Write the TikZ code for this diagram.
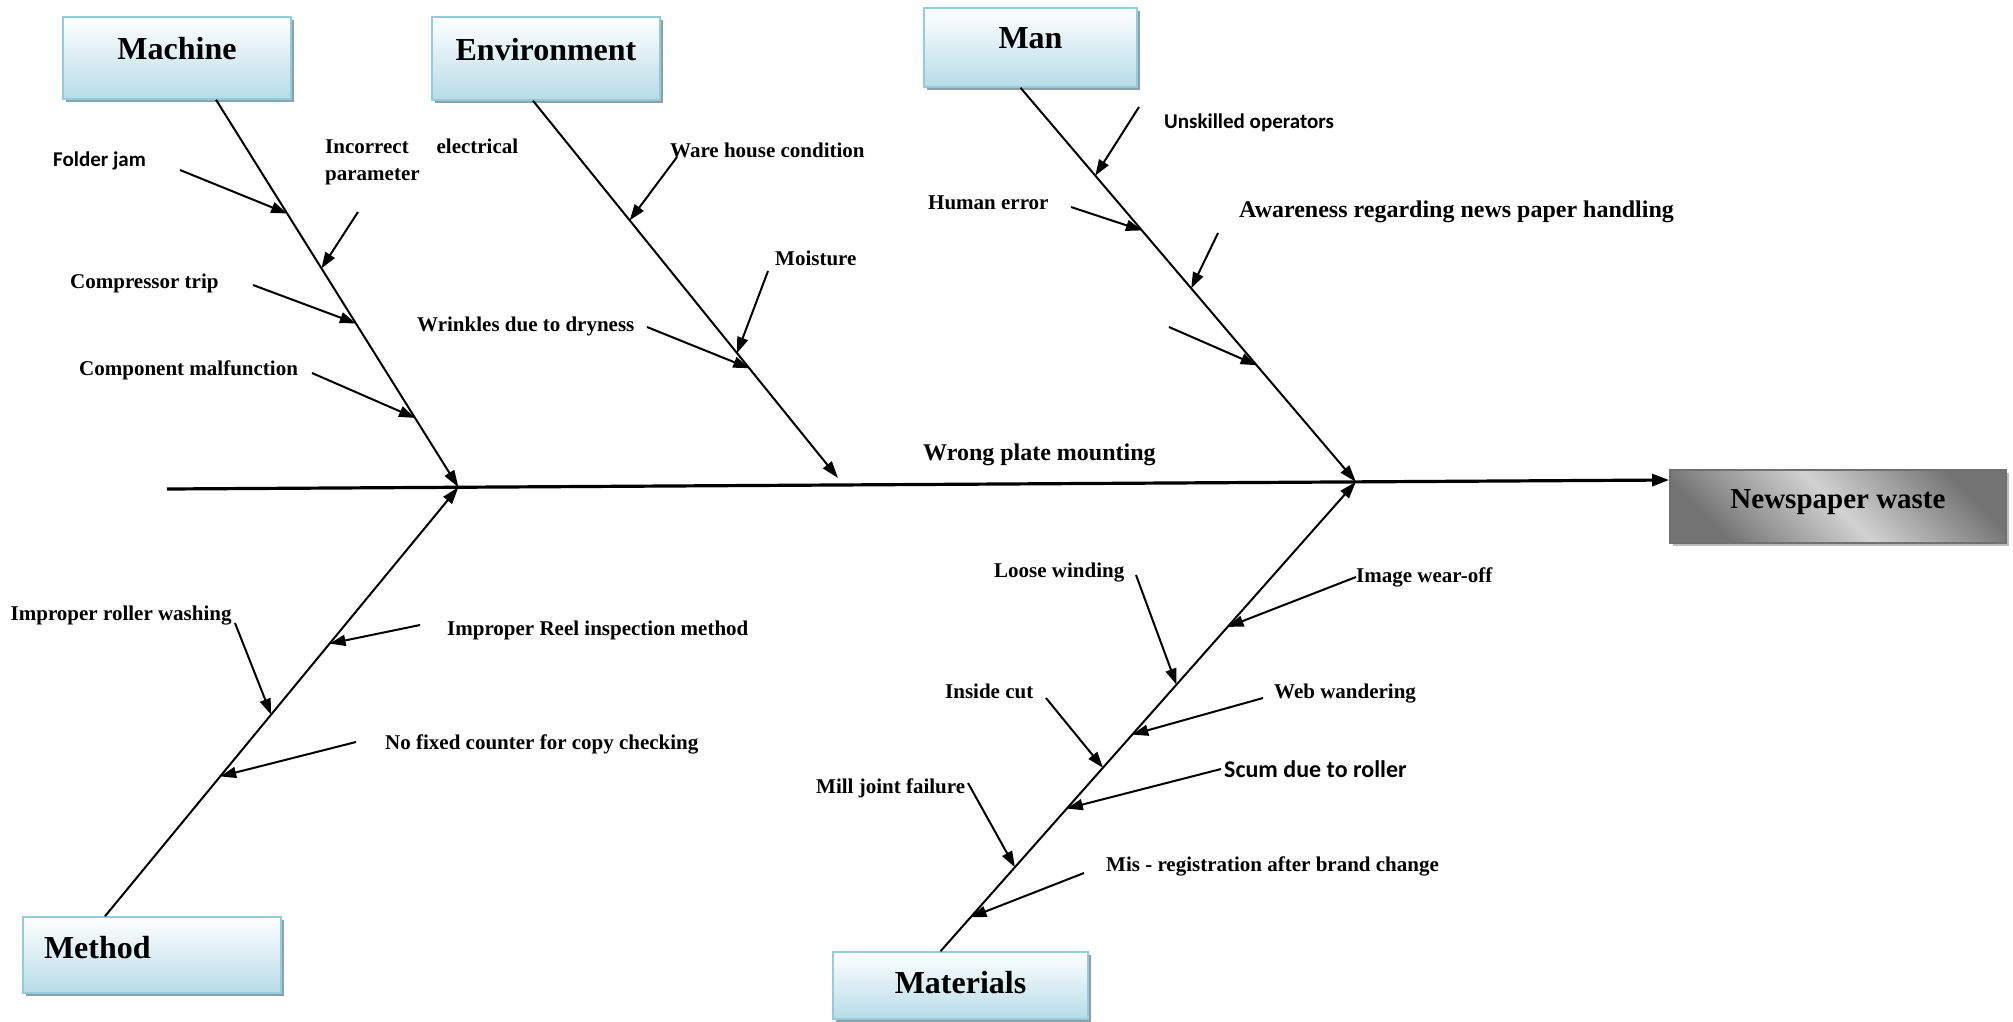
\documentclass[tikz,border=0pt]{standalone}
\usepackage{fontspec}
\setmainfont{Liberation Serif}
\newfontfamily\sansbold{Carlito}
\usetikzlibrary{arrows.meta,calc,shadows}

\definecolor{boxbot}{HTML}{B6DCE7}
\definecolor{boxedge}{HTML}{93CDDD}
\definecolor{boxshade}{HTML}{8E9FA6}
\definecolor{wastedark}{HTML}{737373}
\definecolor{wastelight}{HTML}{D2D2D2}
\definecolor{wasteedge}{HTML}{707070}
\definecolor{wasteshade}{HTML}{BDBDBD}

\tikzset{
  catbox/.style={draw=boxedge, line width=1.5pt, top color=white, bottom color=boxbot,
    drop shadow={shadow xshift=3pt, shadow yshift=-3pt, fill=boxshade, opacity=1},
    inner sep=0pt, text depth=0pt,
    font=\fontsize{32}{38}\selectfont\bfseries},
  effectbox/.style={draw=wasteedge, line width=1.8pt,
    top color=wastedark, bottom color=wastedark, middle color=wastelight, shading angle=-45,
    drop shadow={shadow xshift=3pt, shadow yshift=-3pt, fill=wasteshade, opacity=1},
    inner sep=0pt, text depth=0pt,
    font=\fontsize{29}{34}\selectfont\bfseries},
  lbl/.style={anchor=base west, inner sep=0pt, font=\fontsize{21}{25}\selectfont\bfseries},
  lblbig/.style={lbl, font=\fontsize{24}{28}\selectfont\bfseries},
  lblsans/.style={anchor=base west, inner sep=0pt, font=\fontsize{21}{25}\selectfont\sansbold\bfseries},
  spine/.style={line width=3.2pt, -{Triangle[length=17pt,width=12pt]}},
  bone/.style={line width=2pt, -{Triangle[length=17pt,width=11pt]}},
  cause/.style={line width=2pt, -{Triangle[length=16pt,width=11pt]}}
}

\begin{document}
\begin{tikzpicture}[x=1pt,y=-1pt]
\useasboundingbox (0,0) rectangle (2013,1021);

% category boxes and the effect box (text height sets the baseline below the centre)
\node[catbox, minimum width=228pt, minimum height=82pt, text height=3pt] (machine) at (177,58) {Machine};
\node[catbox, minimum width=228pt, minimum height=83pt, text height=3pt] (env) at (546,58.5) {Environment};
\node[catbox, minimum width=213pt, minimum height=79pt, text height=2pt] (man) at (1030.5,47.5) {Man};
\node[catbox, minimum height=76pt, text height=7pt, text width=216pt, inner xsep=21pt, align=left] (method) at (152,955) {Method};
\node[catbox, minimum width=255pt, minimum height=67pt, text height=15pt] (mat) at (960.5,985.5) {Materials};
\node[effectbox, minimum width=336pt, minimum height=73pt, text height=3pt] (waste) at (1838,506.5) {Newspaper waste};

% spine
\coordinate (spL) at (167,489);
\coordinate (spR) at ([yshift=26.5pt]waste.west);
\draw[spine] (spL) -- (spR);
\coordinate (J1) at ($(spL)!0.194!(spR)$);
\coordinate (J2) at ($(spL)!0.7915!(spR)$);

% main bones
\coordinate (mTop) at ([xshift=39pt]machine.south);
\coordinate (eTop) at ([xshift=-13pt]env.south);
\coordinate (eTip) at (838,478);
\coordinate (hTop) at ([xshift=-10pt]man.south);
\coordinate (dBot) at ([xshift=-47pt]method.north);
\coordinate (tBot) at ([xshift=-20pt]mat.north);
\draw[bone] (mTop) -- (J1);
\draw[bone] (eTop) -- (eTip);
\draw[bone] (hTop) -- (J2);
\draw[bone] (dBot) -- (J1);
\draw[bone] (tBot) -- (J2);

% Machine causes
\node[lblsans] (fj) at (53,166) {Folder jam};
\node[lbl, font=\fontsize{21}{27}\selectfont\bfseries] (inc) at (325,153) {\parbox[t]{193pt}{\makebox[193pt][s]{Incorrect electrical}\\parameter}};
\node[lbl] (cp) at (70,288) {Compressor trip};
\node[lbl] (cm) at (79,375) {Component malfunction};
\coordinate (fj-s) at (180,170);
\coordinate (inc-s) at (358,212);
\coordinate (cp-s) at (253,285);
\coordinate (cm-s) at (312,373);
\draw[cause] (fj-s) -- ($(mTop)!0.2935!(J1)$);
\draw[cause] (inc-s) -- ($(mTop)!0.435!(J1)$);
\draw[cause] (cp-s) -- ($(mTop)!0.577!(J1)$);
\draw[cause] (cm-s) -- ($(mTop)!0.821!(J1)$);

% Environment causes
\node[lbl] (wh) at (670,157) {Ware house condition};
\node[lbl] (mo) at (775,265) {Moisture};
\node[lbl] (wr) at (417,331) {Wrinkles due to dryness};
\node[lblbig] (wp) at (923,460) {Wrong plate mounting};
\coordinate (wh-s) at (677,157);
\coordinate (mo-s) at (768,271);
\coordinate (wr-s) at (647,327);
\draw[cause] (wh-s) -- ($(eTop)!0.317!(eTip)$);
\draw[cause] (mo-s) -- ($(eTop)!0.669!(eTip)$);
\draw[cause] (wr-s) -- ($(eTop)!0.709!(eTip)$);

% Man causes
\node[lblsans] (uo) at (1164,128) {Unskilled operators};
\node[lbl] (he) at (928,209) {Human error};
\node[lblbig] (aw) at (1239,217) {Awareness regarding news paper handling};
\coordinate (uo-s) at (1139,107);
\coordinate (he-s) at (1071,207);
\coordinate (aw-s) at (1218,233);
\coordinate (un-s) at (1169,327);
\draw[cause] (uo-s) -- ($(hTop)!0.223!(J2)$);
\draw[cause] (he-s) -- ($(hTop)!0.362!(J2)$);
\draw[cause] (aw-s) -- ($(hTop)!0.509!(J2)$);
\draw[cause] (un-s) -- ($(hTop)!0.704!(J2)$);

% Method causes
\node[lbl] (rw) at (10.5,620) {Improper roller washing};
\node[lbl] (ri) at (447,635) {Improper Reel inspection method};
\node[lbl] (nf) at (385,749) {No fixed counter for copy checking};
\coordinate (rw-s) at (235,623);
\coordinate (ri-s) at (420,625);
\coordinate (nf-s) at (356,742);
\draw[cause] (rw-s) -- ($(dBot)!0.470!(J1)$);
\draw[cause] (ri-s) -- ($(dBot)!0.6355!(J1)$);
\draw[cause] (nf-s) -- ($(dBot)!0.326!(J1)$);

% Materials causes
\node[lbl] (lw) at (994,577) {Loose winding};
\node[lbl] (iw) at (1356,582) {Image wear-off};
\node[lbl] (ic) at (945,698) {Inside cut};
\node[lbl] (ww) at (1274,698) {Web wandering};
\node[lblsans, font=\fontsize{24}{28}\selectfont\sansbold\bfseries] (sc) at (1224,777) {Scum due to roller};
\node[lbl] (mj) at (816,793) {Mill joint failure};
\node[lbl] (mr) at (1106,871) {Mis - registration after brand change};
\coordinate (lw-s) at (1136,575);
\coordinate (iw-s) at (1356,577);
\coordinate (ic-s) at (1046,698);
\coordinate (ww-s) at (1263,698);
\coordinate (sc-s) at (1221,769);
\coordinate (mj-s) at (968,783);
\coordinate (mr-s) at (1084,873);
\draw[cause] (lw-s) -- ($(tBot)!0.568!(J2)$);
\draw[cause] (iw-s) -- ($(tBot)!0.691!(J2)$);
\draw[cause] (ic-s) -- ($(tBot)!0.391!(J2)$);
\draw[cause] (ww-s) -- ($(tBot)!0.4616!(J2)$);
\draw[cause] (sc-s) -- ($(tBot)!0.304!(J2)$);
\draw[cause] (mj-s) -- ($(tBot)!0.179!(J2)$);
\draw[cause] (mr-s) -- ($(tBot)!0.0723!(J2)$);
\end{tikzpicture}
\end{document}
